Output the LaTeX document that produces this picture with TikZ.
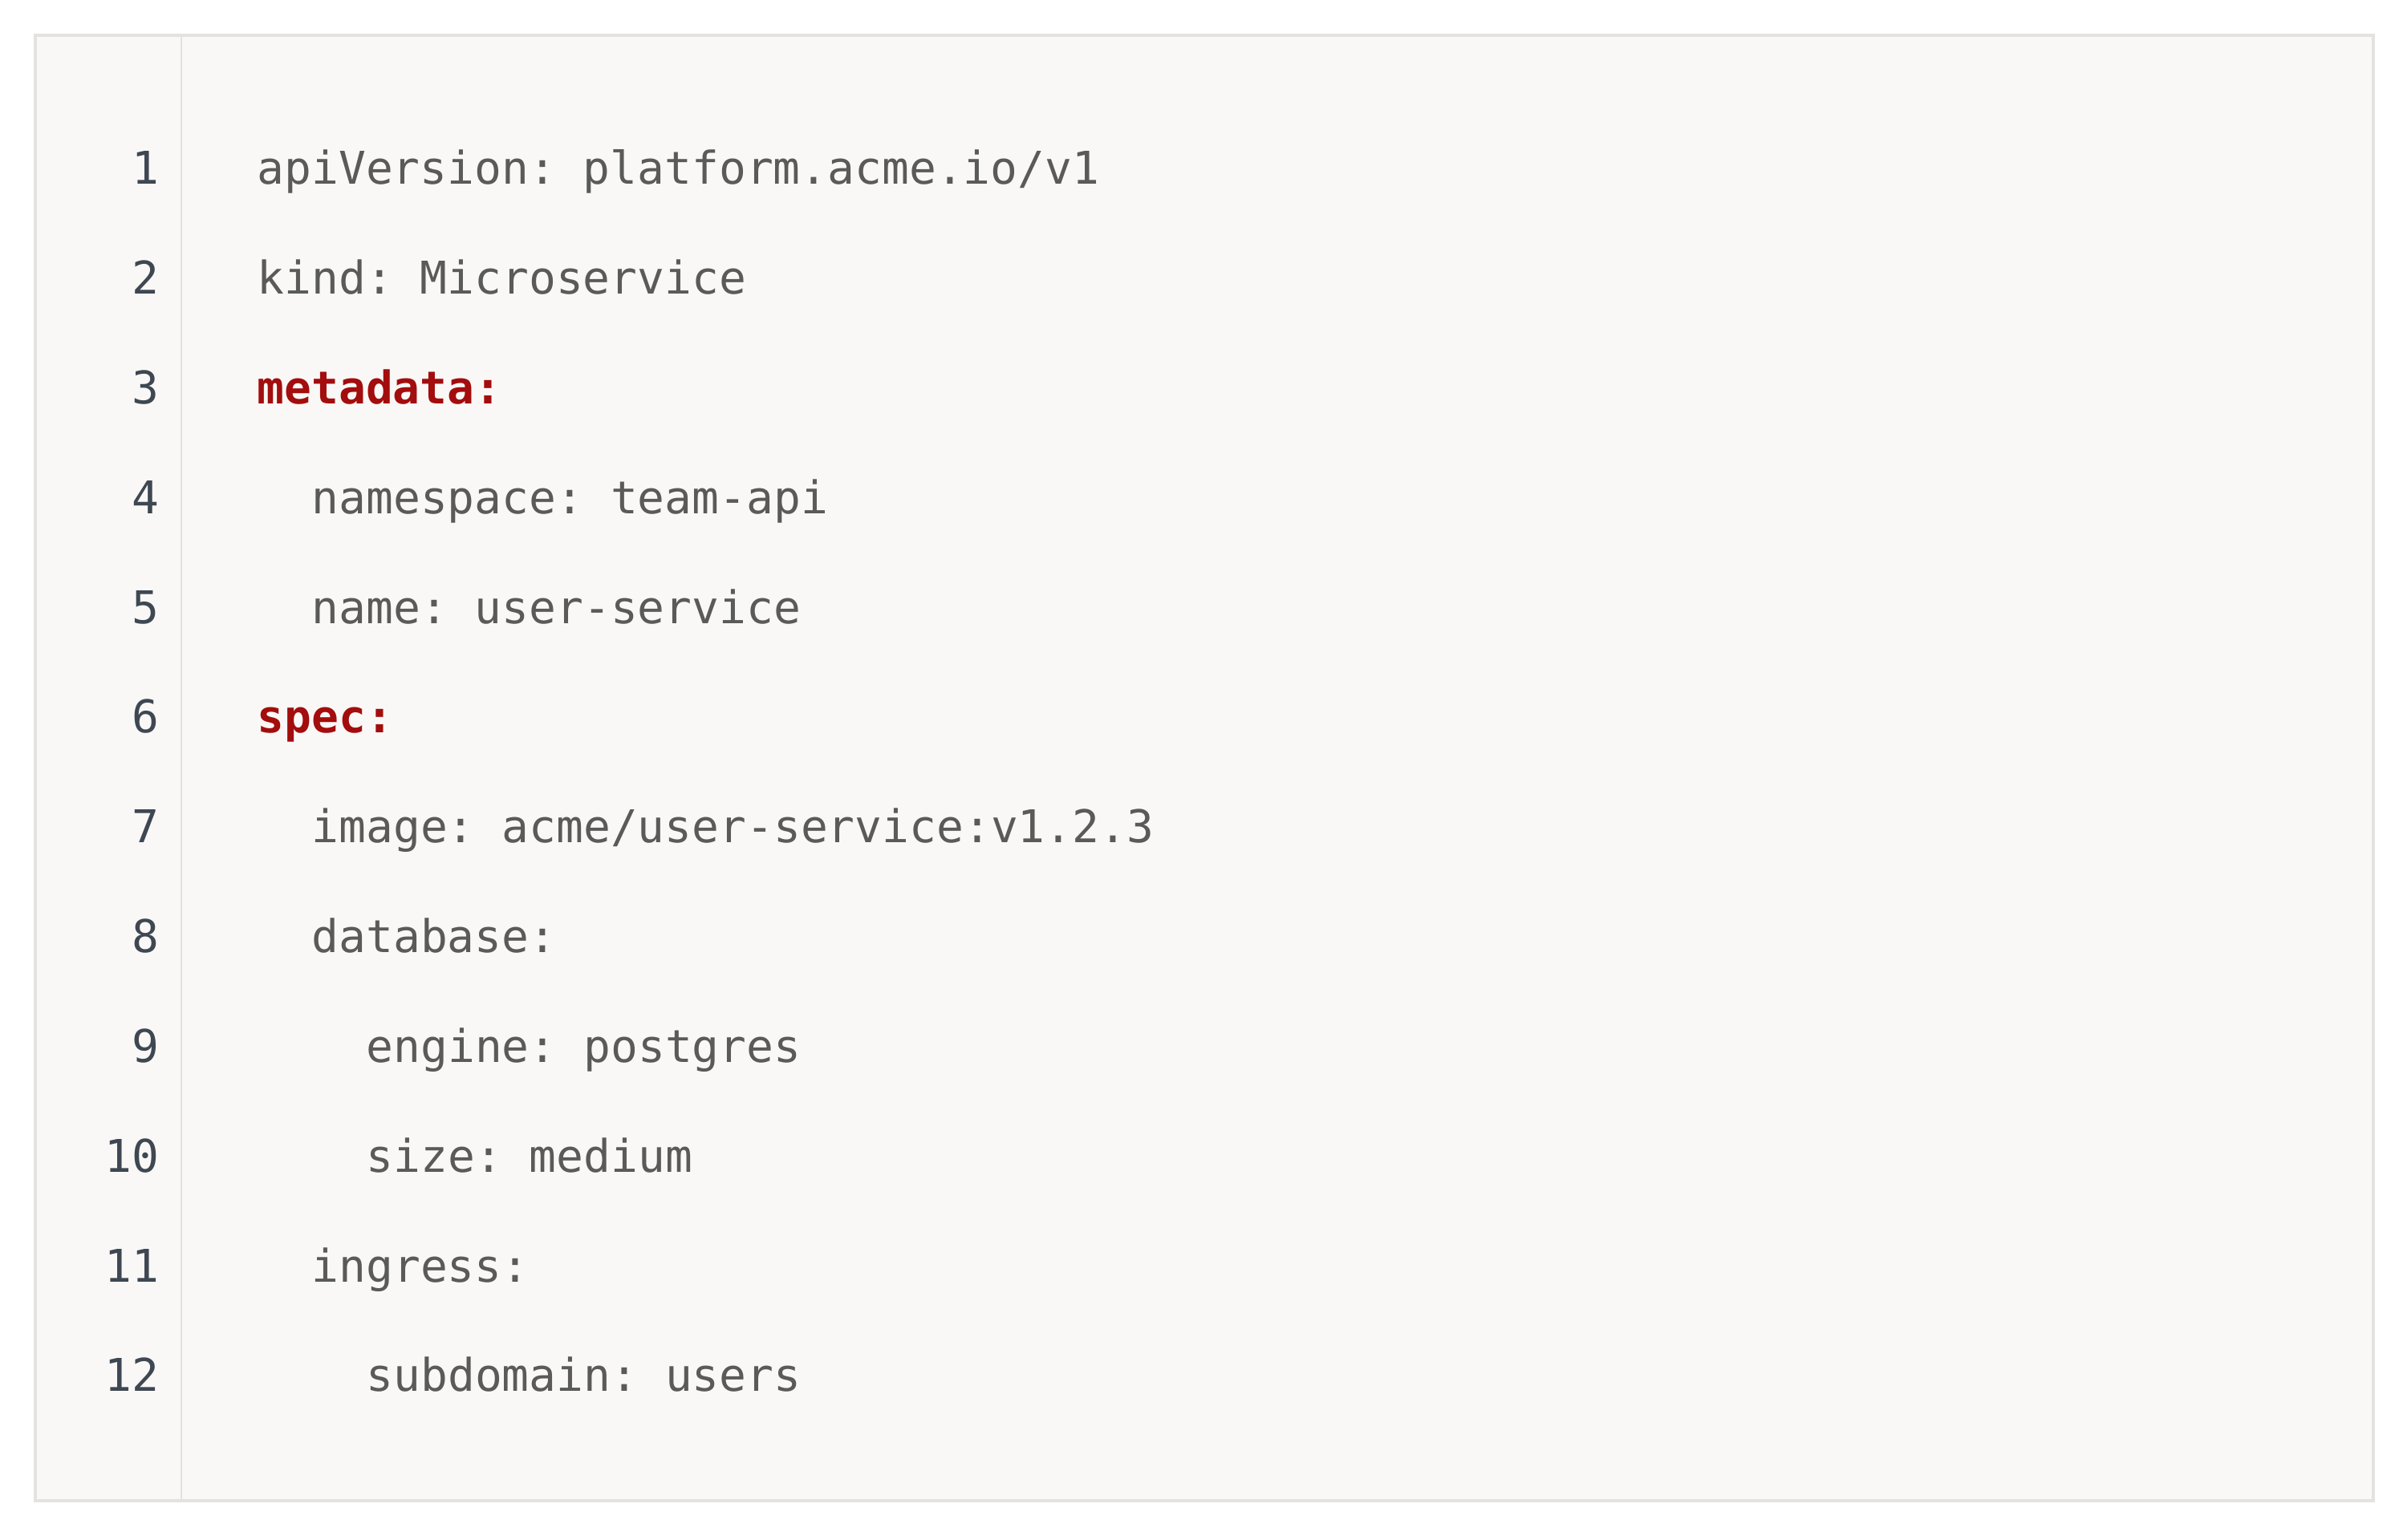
\documentclass[tikz,border=0pt]{standalone}
\usepackage{fontspec}
\usepackage{xcolor}
\setmonofont{DejaVu Sans Mono}
\definecolor{codebg}{HTML}{F9F8F6}
\definecolor{codeframe}{HTML}{E3E2DF}
\definecolor{codetext}{HTML}{5A5A58}
\definecolor{linenum}{HTML}{3E4752}
\definecolor{yamlkey}{HTML}{A30D0D}

\begin{document}
\begin{tikzpicture}[
  lineno/.style={anchor=base east, inner sep=0pt, text=linenum, font=\ttfamily\fontsize{16}{19}\selectfont},
  codeline/.style={anchor=base west, inner sep=0pt, text=codetext, font=\ttfamily\fontsize{16}{19}\selectfont},
  keyline/.style={codeline, text=yamlkey, font=\ttfamily\bfseries\fontsize{16}{19}\selectfont}]
\useasboundingbox (0,0) rectangle (30,19.19);
% panel and gutter
\draw[codeframe, fill=codebg, line width=1.1pt] (0.44,0.48) rectangle (29.58,18.75);
\draw[codeframe, line width=0.6pt] (2.26,0.50) -- (2.26,18.73);
% line numbers
\node[lineno] (n1) at (1.99,16.89) {1};
\node[lineno] (n2) at (1.99,{16.89-1*1.368}) {2};
\node[lineno] (n3) at (1.99,{16.89-2*1.368}) {3};
\node[lineno] (n4) at (1.99,{16.89-3*1.368}) {4};
\node[lineno] (n5) at (1.99,{16.89-4*1.368}) {5};
\node[lineno] (n6) at (1.99,{16.89-5*1.368}) {6};
\node[lineno] (n7) at (1.99,{16.89-6*1.368}) {7};
\node[lineno] (n8) at (1.99,{16.89-7*1.368}) {8};
\node[lineno] (n9) at (1.99,{16.89-8*1.368}) {9};
\node[lineno] (n10) at (1.99,{16.89-9*1.368}) {10};
\node[lineno] (n11) at (1.99,{16.89-10*1.368}) {11};
\node[lineno] (n12) at (1.99,{16.89-11*1.368}) {12};
% code lines
\node[codeline] (c1) at (3.20,16.89) {apiVersion: platform.acme.io/v1};
\node[codeline] (c2) at (3.20,{16.89-1*1.368}) {kind: Microservice};
\node[keyline] (c3) at (3.20,{16.89-2*1.368}) {metadata:};
\node[codeline] (c4) at ({3.20+2*0.34},{16.89-3*1.368}) {namespace: team-api};
\node[codeline] (c5) at ({3.20+2*0.34},{16.89-4*1.368}) {name: user-service};
\node[keyline] (c6) at (3.20,{16.89-5*1.368}) {spec:};
\node[codeline] (c7) at ({3.20+2*0.34},{16.89-6*1.368}) {image: acme/user-service:v1.2.3};
\node[codeline] (c8) at ({3.20+2*0.34},{16.89-7*1.368}) {database:};
\node[codeline] (c9) at ({3.20+4*0.34},{16.89-8*1.368}) {engine: postgres};
\node[codeline] (c10) at ({3.20+4*0.34},{16.89-9*1.368}) {size: medium};
\node[codeline] (c11) at ({3.20+2*0.34},{16.89-10*1.368}) {ingress:};
\node[codeline] (c12) at ({3.20+4*0.34},{16.89-11*1.368}) {subdomain: users};
\end{tikzpicture}
\end{document}
